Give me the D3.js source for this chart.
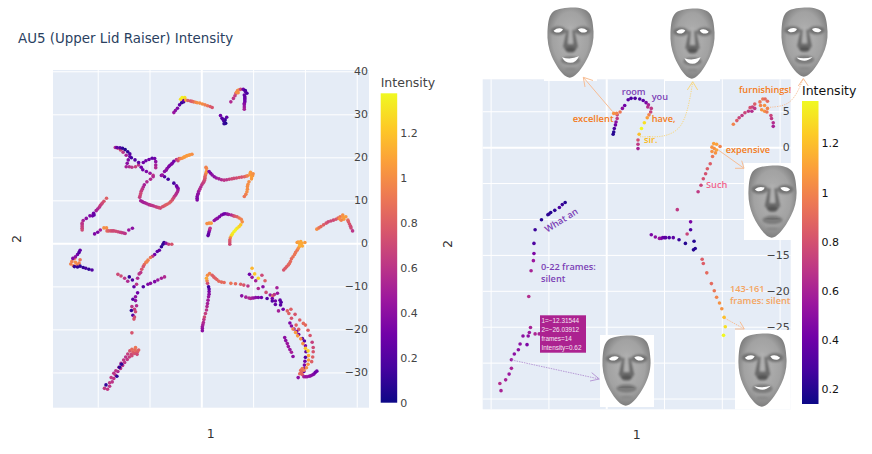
<!DOCTYPE html>
<html>
<head>
<meta charset="utf-8">
<style>
    body { margin: 0; background: white; }
    text { font-family: "DejaVu Sans", sans-serif; }
    .note { font-family: "Open Sans", sans-serif; font-weight: 600; }
</style>
</head>
<body>
<svg id="chart" width="872" height="454"></svg>
<script src="https://cdn.jsdelivr.net/npm/d3@7"></script>
<script>
// every point is [dim 1, dim 2, intensity]
const topHook = [[-5.3,30.4,.45],[-5,30.9,.4],[-4.6,31.4,.35],[-4.2,32.2,.25],[-3.8,32.7,.1],[-3.4,32.9,.15],[-3.5,33.3,.3],[-4,33.5,1.3],[-3.7,33.9,1.35],[-3.2,33.9,1.3],[-3,33.3,1.1],[-2.6,33.2,.8],[-2.1,33.1,.75],[-1.8,33,.8],[-1.5,32.9,.85],[-1.1,32.8,.95],[-.8,32.7,1],[-.3,32.6,1],[.2,32.4,1],[.7,32.2,.95],[1.2,32,.9],[1.7,31.8,.8],[2.1,31.6,.75]]
const topKnot = [[-16.6,22.3,.55],[-16.1,22.1,.65],[-15.6,21.7,.7],[-15.1,21.2,.6],[-14.5,20.5,.5],[-16.3,22.3,.25],[-15.7,22.2,.2],[-15.2,22.1,.1],[-14.7,21.8,.05],[-14.2,21.3,.1],[-13.8,20.8,.2],[-13.8,20.2,.3],[-14.1,19.4,.35],[-14.3,18.6,.4],[-14.5,17.8,.5],[-13.9,17.8,.55],[-13.4,17.7,.6],[-12.7,17.8,.65],[-12.1,18.2,.6],[-13.5,19.9,.15],[-12.8,19.4,.2],[-12.1,18.8,.25],[-11.6,17.7,.3],[-11.3,17.1,.3],[-10.6,16.7,.35],[-9.9,16.3,.45],[-9.3,15.8,.6],[-11.2,18.8,.3],[-10.7,19.2,.3],[-10.1,19.5,.3],[-9.5,19.8,.25],[-9,19.7,.3],[-8.8,19,.4],[-8.8,18.2,.5],[-8.8,17.6,.55]]
const bigLoop = [[-9.3,15.5,.55],[-9.8,14.9,.55],[-10.5,14.3,.55],[-11,13.6,.5],[-11.2,13.1,.55],[-11.4,12.6,.6],[-11.6,12.1,.65],[-11.7,11.6,.7],[-11.8,11.1,.7],[-11.9,10.7,.65],[-11.7,9.9,.5],[-11.4,9.7,.5],[-11.1,9.5,.5],[-10.8,9.4,.5],[-10.5,9.2,.55],[-10.1,9,.55],[-9.8,8.9,.6],[-9.5,8.8,.6],[-9.2,8.7,.6],[-8.8,8.5,.65],[-8.5,8.4,.65],[-8.2,8.3,.7],[-7.9,8.2,.7],[-7.5,8.5,.75],[-7.2,8.7,.75],[-6.9,8.9,.8],[-6.6,9.1,.8],[-6.2,9.4,.8],[-5.9,9.7,.8],[-5.6,10.1,.75],[-5.4,10.5,.7],[-5.2,10.9,.65],[-5,11.2,.6],[-4.8,11.6,.55],[-4.6,12,.55],[-4.5,12.4,.5],[-4.5,12.8,.4],[-4.7,13.1,.35],[-4.8,13.4,.3],[-5.3,14,.15],[-6.4,14.9,.15],[-7.1,15.5,.2],[-7.7,15.8,.4]]
const upperRise = [[-7.5,15.9,.45],[-7.1,16.7,.4],[-6.8,17,.4],[-6.6,17.4,.4],[-6.3,17.8,.35],[-6.1,18.1,.35],[-5.8,18.4,.35],[-5.6,18.6,.35],[-5.3,19.1,.3],[-4.8,19.5,.6],[-4.5,19.2,.7],[-4.3,19.7,.8],[-4,19.7,.95],[-3.7,19.8,1],[-3.4,20,1.05],[-3.2,20.1,1.05],[-2.9,20.3,1.05],[-2.7,20.4,1.05],[-2.4,20.5,1.05],[-2.2,20.6,1.05],[-1.8,20.7,1]]
const archStem = [[-.8,10.1,.35],[-.8,10.5,.35],[-.8,10.9,.35],[-.7,11.3,.4],[-.6,11.6,.4],[-.5,12.1,.45],[-.3,12.6,.55],[-.1,13.1,.55],[.1,13.6,.6],[.3,14,.65],[.5,14.3,.65],[.6,14.7,.7],[.7,15.1,.75],[.7,15.5,.8],[.8,15.9,.85],[.9,16.3,.95],[1,16.7,1.05],[1,17.4,1],[.9,17.7,.95]]
const archRight = [[1.5,16.7,.35],[1.8,16.3,.35],[2.1,15.9,.4],[2.5,15.5,.4],[2.9,15.2,.45],[3.4,15,.5],[3.9,14.8,.55],[4.4,14.7,.6],[4.9,14.8,.6],[5.4,14.9,.65],[5.9,15,.7],[6.3,15.1,.7],[6.8,15.2,.7],[7.3,15.3,.75],[7.8,15.4,.75],[8.3,15.5,.8],[8.6,15.6,.85],[8.9,15.7,.95],[9.5,15.9,1.05],[9.7,15.5,1.1],[9.4,16.1,1.05],[9.9,15.7,1.05],[9.5,16.5,1.05],[10,16.2,1],[9.7,15,1.05],[9.2,14.3,1],[9,13.7,1],[8.9,13.2,1],[8.9,12.6,1],[8.8,12,1],[8.6,11.4,.95],[8.3,10.9,.9]]
const topRightHook = [[5.7,32.9,.55],[6.2,33.7,.6],[6.5,34.3,.65],[6.7,34.9,.7],[7,35.5,.95],[6.8,35.1,1],[7.3,35.7,1],[7.1,35,1],[7.6,35.8,.7],[8.1,35.8,.3],[8.5,35.5,.1],[8.8,34.9,.15],[8.5,35.3,.2],[8.3,34.5,.25],[8.4,34.1,.25],[8.4,33.7,.25],[8.4,33.3,.3],[8.4,32.9,.3],[8.3,32.5,.35],[8.3,32.2,.4],[8.3,31.7,.45],[8.3,31.2,.5]]
const smallDrop = [[3.7,29.7,.3],[4,29.1,.2],[4.4,28.4,.15],[4.7,27.9,.05],[4.4,27.8,.1],[4.9,29.3,.25],[4.6,28.7,.1],[4.2,28.8,.2]]
const leftRise = [[-18.3,10.5,.8],[-18.8,9.8,.75],[-19.1,9.4,.7],[-19.3,9.1,.7],[-19.5,8.8,.65],[-19.7,8.4,.6],[-20,8,.55],[-20.3,7.6,.5],[-20.8,7,.3],[-21,6.4,.3],[-20.7,6.6,.25],[-21.5,6.4,.35],[-22.2,5.8,.4],[-22.8,5.3,.5],[-23,4.7,.6],[-23,4.3,.6],[-23,3.9,.65],[-23,3.5,.65],[-23,3.1,.7]]
const leftFlat = [[-20.6,2.2,.35],[-20,2.6,.35],[-19.5,3.1,.5],[-18.8,3.6,1],[-18.3,3.6,1],[-18.2,2.9,.85],[-17.9,2.9,.8],[-17.5,2.9,.75],[-17.2,2.9,.7],[-16.9,2.9,.7],[-16.5,2.8,.7],[-16.1,2.7,.7],[-15.7,2.6,.65],[-15.4,2.5,.65],[-15,2.4,.6],[-14.7,2.3,.6],[-14,3.1,.45],[-13.3,3.5,.4]]
const midArch = [[1.3,1.8,.25],[1.4,2.2,.25],[1.5,2.7,.3],[1.6,3.1,.45],[1.7,3.5,.6],[1.5,4.7,1],[1.9,4.7,1.05],[1.1,4.6,1],[2.5,5.3,.45],[2.8,5.6,.4],[3.1,5.8,.4],[3.5,6.2,.35],[3.9,6.6,.35],[4.3,6.8,.3],[4.6,6.9,.3],[5,6.8,.4],[5.3,6.7,.45],[5.8,6.6,.55],[6.2,6.4,.65],[6.5,6.3,.75],[6.9,6.2,.8],[7.3,5.9,.9],[7.7,5.6,.95],[7.9,5,1],[7.6,4.3,1.2],[7.3,3.9,1.25],[6.9,3.5,1.3],[6.6,3.1,1.35],[6.3,2.7,1.35],[6,2.2,1.32],[5.8,1.8,1.3],[5.6,1.3,1],[5.5,.8,.8],[5.5,.3,.75],[5.5,-.2,.7]]
const rightPeak = [[22.3,3.3,1],[22.7,3.6,.9],[23.1,3.9,.85],[23.6,4.3,.8],[24.1,4.7,.75],[24.5,5,.7],[25,5.2,.7],[25.5,5.4,.7],[26,5.6,.75],[26.4,5.9,.85],[26.8,6.2,.9],[27.3,6.6,1],[27.9,6.2,1.05],[27.5,5.6,1.05],[27,5.4,.95],[27.4,6.1,1.05],[26.7,5.7,1],[28.3,5.4,.85],[28.4,5,.8],[28.6,4.5,.75],[28.8,4,.72],[28.9,3.6,.7],[29.2,2.9,.6]]
const centerDiag = [[15.9,-6.2,.75],[16.2,-5.8,.78],[16.5,-5.4,.8],[16.8,-5,.82],[17,-4.7,.85],[17.2,-4.2,.85],[17.4,-3.6,.85],[17.7,-3.1,.88],[18,-2.6,.9],[18.2,-2.1,.9],[18.5,-1.6,.9],[18.7,-1.2,1],[18.9,-.8,1.05],[18.5,.2,1.05],[19.2,.4,1.1],[20,.2,1.05],[19,-.4,1.15],[19.5,-.6,1.1],[18.7,.3,1.05],[18.9,.1,1.1],[19.4,0,1.1]]
const lowerHook = [[.2,-20.3,.4],[.2,-19.8,.42],[.2,-19.4,.45],[.3,-18.9,.5],[.4,-18.4,.55],[.5,-17.7,.6],[.6,-17.1,.7],[.8,-16.3,.65],[1,-15.5,.6],[1.1,-14.7,.55],[1.2,-14,.5],[1.3,-13.2,.48],[1.4,-12.4,.45],[1.5,-11.8,.4],[1.5,-11.2,.35],[1.5,-10.6,.25],[1.4,-10.1,.15],[1.2,-9.3,.7],[1.1,-8.7,.95],[1,-8.1,1.1],[1.2,-7.4,1],[1.6,-7,.95],[2.1,-7.4,.8],[2.4,-7.8,.8],[2.7,-8.1,.8],[3,-8.4,.82],[3.4,-8.8,.85],[3.9,-9,.85],[4.4,-9.1,.85],[5.7,-9.3,.9],[6.6,-9.4,.85],[7.6,-9.5,.8],[8.2,-9.7,.75],[9,-9.9,.6]]
const scatterMid = [[9.8,-5.8,1.15],[10.3,-7.1,1.2],[11,-8.1,1.25],[9.3,-7.2,.3],[9.8,-7.9,.45],[10.5,-8.7,.5],[11.7,-7.4,.7],[12.3,-8.7,.8],[11.9,-10.1,.4],[11,-10.5,.55],[12.5,-11.4,.7],[13.3,-12,.45],[12.7,-12.8,.2],[13.8,-12.2,.8],[14.1,-11.9,.6],[14.6,-10.3,.5],[14.7,-11.6,.45],[15.2,-13.2,.25],[15.4,-13.7,.2],[15.3,-14.3,.2],[14.3,-13.4,.3],[13.7,-13.4,.2],[14.3,-14.2,.25],[13.7,-12.8,.3],[14.9,-15.7,.5],[15.8,-15.3,.3]]
const shortFlat = [[7.8,-12.2,.4],[8.6,-12.5,.5],[9.2,-12.7,.55],[9.5,-12.8,.55],[9.8,-12.7,.5],[10.1,-12.7,.45],[10.5,-12.6,.4],[11,-12.6,.35],[11.6,-12.6,.3]]
const outerArc = [[16.6,-15.7,.8],[16.9,-16.3,.8],[17.3,-15.3,.8],[18.1,-16.5,.75],[17.4,-17.4,.75],[19,-17.8,.8],[19.7,-18.6,.85],[20.1,-19,.85],[20.6,-20.2,.8],[21,-21.4,.75],[21.4,-23,.65],[21.6,-24.2,.7],[21.6,-25.2,.75],[21.5,-26.4,.8],[21.3,-27.5,.8],[18.3,-19,.8],[18.8,-20,.8]]
const darkArc = [[17.1,-18.5,.35],[17.4,-19.2,.4],[17.9,-19.9,.4],[18.4,-20.5,.35],[18.8,-21.2,.3],[19.5,-22.1,.2],[19.9,-22.7,.2],[20.1,-23.8,.35],[20.2,-25.2,.25],[20.1,-26.5,.2],[20,-27.4,.3],[19.9,-28.3,.35],[19.8,-29.1,.3],[19.8,-29.8,.25]]
const orangeArc = [[17.7,-19.9,.95],[18.2,-20.7,1.05],[18.6,-21.5,1.05],[19.2,-22.2,1],[19.6,-23.3,1],[20.1,-24.4,1.2],[20.6,-25,1.25],[20.7,-26.1,1.1],[20.7,-27.1,1.05],[20.6,-28.1,1],[20.3,-28.9,1],[19.8,-29.5,.95]]
const arcFoot = [[18.7,-31.2,.4],[19.3,-30,.85],[19.2,-29.5,.85],[19.5,-29.1,.9],[19.5,-30.5,.8],[19,-30.3,.85],[19.8,-31,.5],[20.1,-31,.45],[20.4,-31,.45],[20.8,-30.9,.42],[21.1,-30.8,.4],[21.4,-30.6,.38],[21.7,-30.4,.35],[22,-30,.3],[22.3,-29.7,.3]]
const shortSlant = [[16.1,-21.9,.4],[16.3,-22.6,.4],[16.6,-23.3,.45],[16.8,-24,.45],[17.1,-24.7,.45],[17.4,-25.3,.5],[17.7,-26.3,.4]]
const leftBlob = [[-25,-4.2,.95],[-24.6,-3.6,.95],[-24.3,-4.4,1],[-24,-5,.95],[-23.6,-4.6,.95],[-23.4,-3.8,.9],[-25.2,-4.8,.95],[-24.7,-5.2,.95],[-24.4,-3.4,.9],[-24.8,-3.5,.35],[-24.3,-3.1,.4],[-23.9,-2.6,.3],[-23.6,-2.1,.2],[-23.4,-1.6,.25],[-24.5,-5.4,.1],[-23.9,-5.5,.1],[-23.4,-5.3,.1],[-22.8,-5.6,.1],[-22.3,-5.8,.15],[-21.7,-6,.1],[-21.1,-6.2,.2]]
const crossLeft = [[-16.1,-7.2,.7],[-15.5,-7.6,.7],[-14.8,-8.1,.6],[-14.2,-8.8,.55],[-13.9,-7.8,.1],[-13.3,-8.5,.2],[-13,-10.1,.25],[-12.5,-9.5,.6],[-12.3,-8.1,.55],[-12,-7.1,.6],[-11.2,-10.1,.2]]
const crossRight = [[-10.3,-9.5,.35],[-9.8,-9.3,.4],[-9,-8.9,.35],[-8.4,-8.5,.45],[-7.7,-8.1,.5],[-7.1,-7.8,.55]]
const crossStem = [[-12.3,-11.5,.3],[-12.7,-12.4,.4],[-13.2,-13,.2],[-12.7,-13.3,.4],[-12.5,-14.5,.55],[-13.4,-14.7,.6],[-12.9,-15.3,.65],[-13.5,-15.6,.1],[-12.7,-15.9,.7],[-13.2,-16.7,.2],[-12.9,-17.1,.7],[-13,-17.6,.75],[-13.4,-20.8,.75]]
const crossTop = [[-7.2,.2,.1],[-6.8,0,.4],[-6.3,-.2,.65],[-5.7,-.2,.75],[-7.4,-.2,.1],[-7.7,-.8,.1],[-8.1,-1.6,.25],[-8.5,-1.9,.25],[-9,-2.6,.3],[-9.4,-3,.6],[-9.8,-3.3,.9],[-10.3,-3.9,.95],[-10.7,-4.4,.95],[-10.5,-4.3,.95],[-11,-4.9,.85],[-11.2,-5.4,.75],[-11.5,-6,.75],[-11.7,-6.8,.6]]
const bottomBar = [[-18.7,-33.7,.62],[-18.1,-33.9,.62],[-17.7,-33.2,.6],[-17.2,-32.2,.6],[-17.7,-32.4,.62],[-16.9,-31.4,.6],[-17.4,-31.2,.62],[-16.6,-30.6,.6],[-16.9,-30.2,.6],[-16.1,-29.8,.55],[-16.5,-29.6,.6],[-15.6,-29.1,.6],[-15.9,-28.8,.62],[-15.2,-28.4,.6],[-15.5,-27.9,.55],[-14.8,-27.7,.6],[-15,-27.1,.62],[-14.3,-27,.62],[-14.6,-26.4,.6],[-13.9,-26.4,.65],[-14.2,-25.7,.65],[-13.5,-25.8,.7],[-13.8,-25,.75],[-13.2,-25.2,.8],[-13.4,-24.6,.85],[-12.8,-24.7,.85],[-12.6,-25.2,.85],[-12.3,-25.2,.8],[-12.1,-24.8,.8],[-12.7,-24.2,.9],[-12.9,-25.6,.75],[-13.4,-26.1,.7],[-12.4,-25.8,.7],[-18.4,-32.9,.1],[-16.3,-30.9,.1],[-15.8,-28.8,.1],[-15.4,-28.1,.1]]

const leftStrokes = [topHook, topKnot, bigLoop, upperRise, archStem, archRight, topRightHook, smallDrop, leftRise, leftFlat, midArch, rightPeak, centerDiag, lowerHook, scatterMid, shortFlat, outerArc, darkArc, orangeArc, arcFoot, shortSlant, leftBlob, crossLeft, crossRight, crossStem, crossTop, bottomBar]

const speechOpening = [[-7.1,-7.7,.2],[-7.6,-8,.25],[-8.1,-8.4,.3],[-8.9,-8.8,.22],[-9.6,-9.1,.2],[-9.9,-9.3,.22],[-10.1,-9.4,.22],[-11.2,-10.1,.2],[-12.3,-11.5,.25],[-12.5,-13.4,.3],[-12.5,-14.8,.45],[-12.6,-15.8,.55],[-13,-17.2,.6],[-13.4,-20.8,.65]]
const speechSilent = [[-18.2,-33.9,.6],[-18.4,-32.9,.65],[-17.4,-32.4,.6],[-16.8,-31.6,.55],[-16.4,-30.8,.6],[-16.4,-29.6,.55],[-15.2,-28.2,.5],[-15.9,-28.8,.5],[-14.9,-27.4,.5],[-13.7,-27.5,.45],[-14.4,-26.3,.5],[-13.5,-26.3,.5],[-13.3,-25.8,.55],[-13.1,-25.1,.6],[-12.3,-26,.62],[-11.6,-26,.6]]
const speechExcellent = [[1.2,1.8,.2],[1.3,2.1,.2],[1.4,2.6,.3],[1.6,3.1,.4],[1.7,3.5,.5],[1.9,4,.7],[1.9,4.5,.75],[1.3,4.7,1.05],[1.8,4.7,1],[2.4,4.9,.95],[2.8,5.4,.5],[3.2,5.8,.4],[3.8,6.6,.35],[4.3,6.8,.3],[5,6.8,.3],[5.8,6.7,.3],[6.4,6.5,.35],[6.9,6.2,.45],[7.3,5.9,.6],[7.2,5.6,.65],[7.8,5.4,.7],[7.7,4.9,.75],[7.4,4.5,1],[7.1,4.1,1.1],[6.6,3.4,1.3],[6.1,2.6,1.37],[5.7,1.8,1.2],[5.5,1,.8],[5.5,.4,.7],[5.5,-.2,.6]]
const speechFurnishings = [[22,3.2,1],[22.6,3.7,.85],[23,4.1,.75],[23.5,4.4,.7],[24,4.8,.75],[24.6,5,.7],[24.9,5.5,.8],[25.3,5.6,.75],[25.7,6,.85],[26.6,6.3,.95],[27.1,6.7,.95],[27.5,6.7,.9],[27.9,6.4,.9],[26.7,5.8,1],[26.9,5.2,1.05],[27.4,5,1.05],[27.9,5.4,1],[27.4,5.8,1.05],[27.8,4.9,.95],[28.5,4.4,.75],[28.6,4,.7],[28.9,3.4,.65],[28.9,2.9,.6],[25.7,5.4,.7],[25.2,5,.65]]
const speechExpensive = [[15.9,-6.2,.7],[16.4,-5.3,.75],[16.8,-4.4,.8],[17.2,-3.7,.8],[17.5,-3,.85],[18,-2.3,.85],[18.4,-1.3,.95],[18.9,-.8,1.05],[18.3,-.6,1.05],[18.3,0,1.05],[18.6,.5,1.1],[19.1,.4,1.1],[19.7,.1,1],[18.7,-.2,1.05],[19.1,-.4,1.1]]
const speechMiddle = [[12.3,-8.7,.7],[14.6,-10.4,.45],[14.6,-11.5,.3],[14,-12.1,.75],[7.8,-12.2,.45],[8.5,-12.5,.5],[9.2,-12.7,.55],[9.5,-12.7,.5],[9.8,-12.6,.4],[10.1,-12.6,.35],[10.3,-12.6,.35],[10.9,-12.6,.3],[11.6,-12.6,.35],[12.6,-12.9,.25],[13.7,-13.4,.2],[15.2,-13.1,.2],[15.1,-14.3,.2],[15.4,-14.1,.2]]
const speechEnding = [[16.6,-15.6,.85],[16.8,-16.2,.85],[17.4,-17.5,.9],[18.2,-19,.9],[18.7,-20,.95],[19.1,-20.9,1],[19.6,-21.7,1.05],[20,-22.5,1.05],[20.4,-23.7,1.2],[20.6,-25,1.3],[20.3,-26.2,1.37]]

const rightStrokes = [speechOpening, speechSilent, speechExcellent, speechFurnishings, speechExpensive, speechMiddle, speechEnding]

const leftXTicks = [-20, -10, 0, 10, 20, 30]
const leftYTicks = [-30, -20, -10, 0, 10, 20, 30, 40]
const leftBarTicks = [0, 0.2, 0.4, 0.6, 0.8, 1, 1.2]
const rightXTicks = [-20, -10, 0, 10, 20, 30]
const rightYTicks = [-35, -30, -25, -20, -15, -10, -5, 0, 5]
const rightBarTicks = [0.2, 0.4, 0.6, 0.8, 1, 1.2]
const plasma = ["#0d0887", "#46039f", "#7201a8", "#9c179e", "#bd3786", "#d8576b", "#ed7953", "#fb9f3a", "#fdca26", "#f0f921"]

const svg = d3.select("#chart")
const defs = svg.append("defs")

defs.append("clipPath").attr("id", "faceClip").append("path").attr("d", faceOutline())
let skin = defs.append("radialGradient").attr("id", "skin").attr("cx", "50%").attr("cy", "45%").attr("r", "62%")
skin.append("stop").attr("offset", "0%").attr("stop-color", "#b4b4b4")
skin.append("stop").attr("offset", "62%").attr("stop-color", "#a2a2a2")
skin.append("stop").attr("offset", "100%").attr("stop-color", "#6e6e6e")
defs.append("filter").attr("id", "soft").attr("x", "-40%").attr("y", "-40%").attr("width", "180%").attr("height", "180%")
    .append("feGaussianBlur").attr("stdDeviation", 2.6)

function plasmaScale(lo, hi) {
    return d3.scaleLinear().domain(plasma.map((c, i) => lo + (hi - lo) * i / 9)).range(plasma)
}

function drawPanel(opt) {
    let x = d3.scaleLinear().domain(opt.xDomain).range([opt.left, opt.right])
    let y = d3.scaleLinear().domain(opt.yDomain).range([opt.bottom, opt.top])
    let color = plasmaScale(opt.barDomain[0], opt.barDomain[1])

    svg.append("rect").attr("x", opt.left).attr("y", opt.top)
        .attr("width", opt.right - opt.left).attr("height", opt.bottom - opt.top).attr("fill", "#e5ecf6")

    let xAxis = svg.append("g").attr("transform", `translate(0,${opt.bottom})`)
        .call(d3.axisBottom(x).tickValues(opt.xTicks).tickSize(opt.top - opt.bottom).tickPadding(opt.bottom - opt.top + 2))
    let yAxis = svg.append("g").attr("transform", `translate(${opt.left},0)`)
        .call(d3.axisLeft(y).tickValues(opt.yTicks).tickSize(opt.left - opt.right).tickPadding(opt.left - opt.right + 1))
    for (let axis of [xAxis, yAxis]) {
        axis.select(".domain").remove()
        axis.selectAll("line").attr("stroke", "white").attr("stroke-width", d => d === 0 ? 2 : 1)
        axis.selectAll("text").attr("fill", "#444").attr("font-size", 11).attr("font-family", "DejaVu Sans")
    }

    svg.append("g").selectAll("circle")
        .data(d3.merge(opt.strokes))
        .join("circle")
        .attr("cx", d => x(d[0]))
        .attr("cy", d => y(d[1]))
        .attr("r", 1.8)
        .attr("fill", d => color(d[2]))

    // colour bar
    let bar = d3.scaleLinear().domain(opt.barDomain).range([opt.barBottom, opt.barTop])
    let grad = defs.append("linearGradient").attr("id", opt.id).attr("x1", 0).attr("x2", 0).attr("y1", 1).attr("y2", 0)
    plasma.forEach((c, i) => grad.append("stop").attr("offset", i / 9).attr("stop-color", c))
    svg.append("rect").attr("x", opt.barX).attr("y", opt.barTop).attr("width", 16.5)
        .attr("height", opt.barBottom - opt.barTop).attr("fill", `url(#${opt.id})`)
    let barAxis = svg.append("g").attr("transform", `translate(${opt.barX + 16.5},0)`)
        .call(d3.axisRight(bar).tickValues(opt.barTicks).tickSize(0).tickPadding(3).tickFormat(d => d))
    barAxis.select(".domain").remove()
    barAxis.selectAll("text").attr("fill", opt.barInk).attr("font-size", 11).attr("font-family", "DejaVu Sans")

    svg.append("text").attr("x", opt.barX).attr("y", opt.barTop - 6.5).attr("font-size", opt.barTitleSize).attr("fill", opt.barInk).text("Intensity")
    svg.append("text").attr("x", opt.xTitle[0]).attr("y", opt.xTitle[1]).attr("text-anchor", "middle").attr("font-size", 12.5).attr("fill", "#333").text("1")
    svg.append("text").attr("transform", `translate(${opt.yTitle[0]},${opt.yTitle[1]}) rotate(-90)`).attr("text-anchor", "middle").attr("font-size", 12.5).attr("fill", "#333").text("2")
}

drawPanel({
    id: "barLeft", strokes: leftStrokes,
    left: 53, right: 369, top: 70, bottom: 407.7,
    xDomain: [-28.63, 32.37], yDomain: [-38.2, 40.3],
    xTicks: leftXTicks, yTicks: leftYTicks,
    barX: 380.7, barTop: 93.3, barBottom: 402.7, barDomain: [0, 1.375], barTicks: leftBarTicks, barInk: "#444", barTitleSize: 12.5,
    xTitle: [210.7, 437.5], yTitle: [21, 239]
})
drawPanel({
    id: "barRight", strokes: rightStrokes,
    left: 482.7, right: 790.7, top: 79.3, bottom: 409.3,
    xDomain: [-21.37, 31.92], yDomain: [-36.5, 9.45],
    xTicks: rightXTicks, yTicks: rightYTicks,
    barX: 802, barTop: 101, barBottom: 404, barDomain: [0.14, 1.372], barTicks: rightBarTicks, barInk: "#111", barTitleSize: 12.5,
    xTitle: [636.7, 438.5], yTitle: [451.5, 244]
})

svg.append("text").attr("x", 18).attr("y", 43).attr("font-size", 13.4).attr("fill", "#2a3f5f").text("AU5 (Upper Lid Raiser) Intensity")

function faceOutline() {
    return "M50,1 C66,0 84,3 91,14 C97,24 98,38 99,52 C100,70 96,88 88,104 C80,120 68,140 56,147 C51,150 46,150 41,147 C30,140 18,122 10,104 C3,88 0,70 1,52 C2,36 3,22 10,13 C17,4 34,2 50,1 Z"
}

// the gray head renders, drawn as shaded shapes in a 100 x 150 box
function drawFace(box, frame, mouth) {
    svg.append("rect").attr("x", frame[0]).attr("y", frame[1]).attr("width", frame[2]).attr("height", frame[3]).attr("fill", "white")
    let g = svg.append("g").attr("transform", `translate(${box[0]},${box[1]}) scale(${box[2] / 100},${box[3] / 150})`)
    g.append("path").attr("d", faceOutline()).attr("fill", "url(#skin)")
    let shade = g.append("g").attr("clip-path", "url(#faceClip)").append("g").attr("filter", "url(#soft)")
    // eye sockets, nose sides, lip shadow
    shade.append("ellipse").attr("cx", 24).attr("cy", 50).attr("rx", 17).attr("ry", 9).attr("fill", "#727272")
    shade.append("ellipse").attr("cx", 76).attr("cy", 50).attr("rx", 17).attr("ry", 9).attr("fill", "#727272")
    shade.append("path").attr("d", "M42,48 L34,84 L44,96 L56,96 L66,84 L58,48 Z").attr("fill", "#6a6a6a")
    shade.append("path").attr("d", "M47,40 L44,78 L56,78 L53,40 Z").attr("fill", "#b0b0b0")
    shade.append("ellipse").attr("cx", 50).attr("cy", 90).attr("rx", 11).attr("ry", 5).attr("fill", "#555")
    shade.append("ellipse").attr("cx", 50).attr("cy", 113).attr("rx", 21).attr("ry", 9).attr("fill", "#7c7c7c")
    shade.append("ellipse").attr("cx", 50).attr("cy", 132).attr("rx", 13).attr("ry", 4).attr("fill", "#8a8a8a")
    // eyes
    g.append("path").attr("d", "M14,50 Q24,42 34,47 Q30,55 20,54 Q16,53 14,50 Z").attr("fill", "white")
    g.append("path").attr("d", "M66,47 Q76,42 86,50 Q84,53 80,54 Q70,55 66,47 Z").attr("fill", "white")
    // mouth: open crescent, thin slit or closed crease
    if (mouth === "open") {
        g.append("path").attr("d", "M32,106 Q50,112 68,104 Q62,118 50,118 Q38,118 32,106 Z").attr("fill", "white")
    } else if (mouth === "slit") {
        g.append("path").attr("d", "M33,108 Q50,112 67,107 Q58,115 50,115 Q40,115 33,108 Z").attr("fill", "white")
    } else {
        g.append("path").attr("d", "M33,111 Q50,106 67,111 Q50,114 33,111 Z").attr("fill", "#6e6e6e")
    }
}

drawFace([547, 7, 47, 71], [544, 0, 53, 81], "open")
drawFace([670, 8, 45, 71], [664, 0, 56, 81], "open")
drawFace([781, 7, 47, 70], [775, 0, 58, 79], "slit")
drawFace([748, 165, 49, 73], [744, 163, 47, 77], "closed")
drawFace([738, 333, 49, 74], [735, 330, 55.7, 79.3], "slit")
drawFace([602, 335, 49, 71], [600, 335, 54, 72], "closed")

// annotation labels
const notes = [
    ["excellent", 572.7, 122, "#f47b20", 9.4], ["room", 621.7, 95, "#7b3fb5", 9.2], ["you", 651.7, 100, "#7b3fb5", 9.2],
    ["have,", 651.7, 121.5, "#f47b20", 9.2], ["sir.", 644, 143, "#fbb917", 9.2], ["furnishings!", 739, 92.5, "#f47b20", 9.2],
    ["expensive", 725.7, 152.5, "#f47b20", 9.2], ["Such", 706, 187.5, "#f0648c", 9.2],
    ["0-22 frames:", 541, 269.5, "#7b3fb5", 9.2], ["silent", 541, 282, "#7b3fb5", 9.2],
    ["143-161", 730, 291.5, "#f4a460", 9.2], ["frames: silent", 730, 303.8, "#f4a460", 9.2]
]
svg.append("g").selectAll("text").data(notes).join("text")
    .attr("class", "note").attr("x", d => d[1]).attr("y", d => d[2]).attr("fill", d => d[3]).attr("font-size", d => d[4]).text(d => d[0])
svg.append("text").attr("class", "note").attr("transform", "translate(563,223) rotate(-32)").attr("text-anchor", "middle")
    .attr("fill", "#7b3fb5").attr("font-size", 9.2).text("What an")

// arrows from the dots to the faces
function arrow(points, head, color, dash) {
    let line = d3.line().curve(d3.curveBasis)
    svg.append("path").attr("d", line(points)).attr("fill", "none").attr("stroke", color).attr("stroke-width", 1).attr("stroke-dasharray", dash)
    svg.append("path").attr("d", d3.line()(head)).attr("fill", "none").attr("stroke", color).attr("stroke-width", 1)
}
arrow([[612.7, 111.7], [583.3, 77.3]], [[585, 87], [583.3, 77.3], [593, 80.5]], "#f7bd94", null)
arrow([[640, 136.7], [655, 137], [667, 136], [682, 128], [689, 105], [692.7, 82]], [[687.3, 90], [692.7, 81.7], [697.7, 90]], "#f9d77e", "1.2 1.2")
arrow([[770, 107.3], [785, 106], [795, 98], [803.3, 79]], [[798.3, 86], [803.3, 78.5], [808.3, 86]], "#f7bd94", "1.2 1.2")
arrow([[718.3, 150], [744, 168.3]], [[735, 168.3], [744, 168.3], [741.7, 160.7]], "#f7bd94", null)
arrow([[725, 318.3], [744.3, 329]], [[735, 329], [744.3, 329], [740, 321.7]], "#f7bd94", "1.5 1")
arrow([[511.7, 360], [599.3, 379]], [[590, 381], [599.3, 379], [591.7, 372.7]], "#b79ad6", "1.5 1")

// hover label kept on the picture
const hoverLines = ["1=−12.31544", "2=−26.03912", "frames=14", "Intensity=0.62"]
svg.append("rect").attr("x", 540).attr("y", 315.3).attr("width", 46).attr("height", 37.4).attr("fill", "#ac2290")
svg.append("g").selectAll("text").data(hoverLines).join("text")
    .attr("x", 541.5).attr("y", (d, i) => 322.5 + i * 9.2).attr("fill", "#f4e4f0").attr("font-size", 6.4)
    .attr("font-family", "Liberation Sans").style("font-family", "Liberation Sans").text(d => d)
</script>
</body>
</html>
